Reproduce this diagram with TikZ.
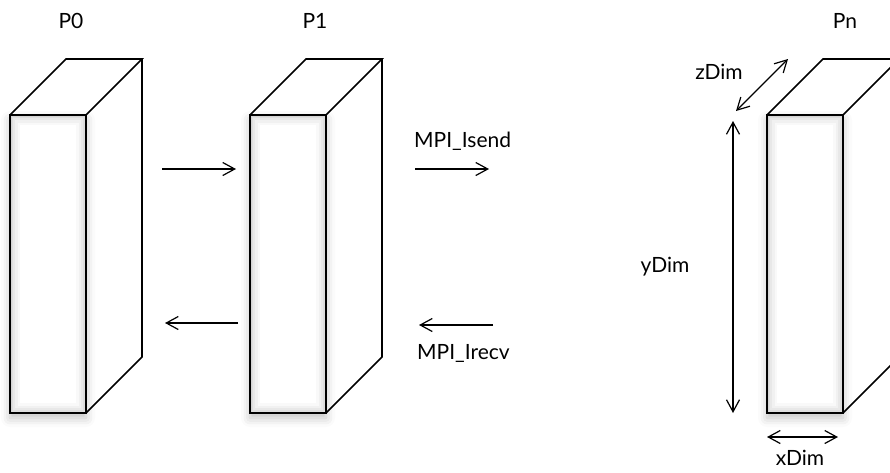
\documentclass[tikz,border=0pt]{standalone}
\usepackage{fontspec}
\setmainfont{Lato}
\usetikzlibrary{shadows.blur,arrows.meta}

\begin{document}
\begin{tikzpicture}[x=1pt,y=-1pt,
  edge/.style={line width=1.6pt, line join=miter},
  face/.style={draw, fill=white, line width=1.6pt, minimum width=76pt,
    minimum height=298pt, inner sep=0pt, outer sep=0pt,
    blur shadow={shadow xshift=0pt, shadow yshift=-5pt,
      shadow blur radius=9pt, shadow opacity=25},
    path picture={
      \foreach \w/\o in {20/0.025,15/0.03,10/0.035,6/0.04,3/0.045}
        \draw[line width=\w pt, black, opacity=\o]
          (path picture bounding box.south west) rectangle
          (path picture bounding box.north east);
    }},
  tip/.tip={Straight Barb[length=12pt, width=13pt, line width=1.2pt]},
  conn/.style={line width=1.2pt, -tip},
  dimen/.style={line width=1.2pt, tip-tip},
  lbl/.style={font=\fontsize{21}{24}\selectfont, inner sep=0pt, anchor=base},
]
\useasboundingbox (0,0) rectangle (890,472);
\clip (0,0) rectangle (890,472);

% three slabs: front face node plus top and side faces
\foreach \n/\cx in {p0/48, p1/288, pn/805} {
  \node[face] (\n) at (\cx,264) {};
  \draw[edge] (\n.north west) -- ++(56,-56) -- ++(76,0) -- (\n.north east);
  \draw[edge] (\n.north east) ++(56,-56) -- ++(0,298) -- (\n.south east);
}

% titles
\node[lbl] (t0) at (71,28) {P0};
\node[lbl] (t1) at (315,28) {P1};
\node[lbl] (tn) at (845,28) {Pn};

% halo exchange arrows
\coordinate (a1s) at (162,169);
\coordinate (a1e) at (236,169);
\coordinate (a2s) at (238,323);
\coordinate (a2e) at (165,323);
\coordinate (a3s) at (415,169);
\coordinate (a3e) at (489,169);
\coordinate (a4s) at (493,325);
\coordinate (a4e) at (419,325);
\draw[conn] (a1s) -- (a1e);
\draw[conn] (a2s) -- (a2e);
\draw[conn] (a3s) -- (a3e);
\draw[conn] (a4s) -- (a4e);
\node[lbl, anchor=base west] (isend) at (414,147) {MPI\_Isend};
\node[lbl, anchor=base west] (irecv) at (417,359) {MPI\_Irecv};

% dimensions of the slab
\coordinate (zs) at (736,111);
\coordinate (ze) at (788,59);
\draw[dimen] (zs) -- (ze);
\node[lbl] (zl) at (719,79) {zDim};

\coordinate (ys) at (733,121);
\coordinate (ye) at (733,413);
\draw[dimen] (ys) -- (ye);
\node[lbl] (yl) at (665,272) {yDim};

\coordinate (xs) at (767,437);
\coordinate (xe) at (838,437);
\draw[dimen] (xs) -- (xe);
\node[lbl] (xl) at (800,465) {xDim};
\end{tikzpicture}
\end{document}
